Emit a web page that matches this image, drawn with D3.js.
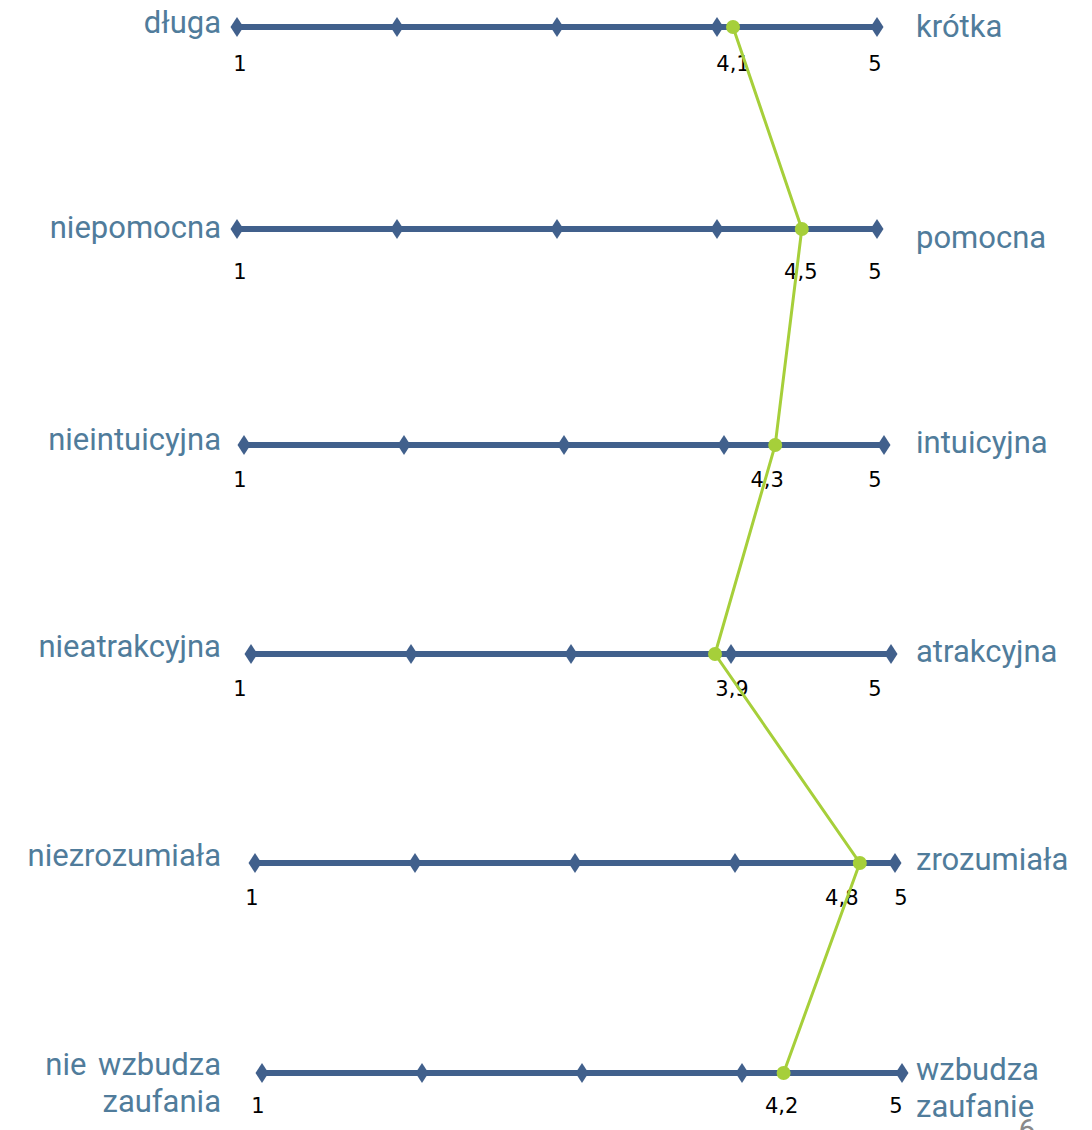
<!DOCTYPE html>
<html><head><meta charset="utf-8">
<script src="https://cdn.jsdelivr.net/npm/d3@7"></script>
<style>html,body{margin:0;padding:0;background:#fff;overflow:hidden}</style>
</head><body>
<svg id="chart" width="1092" height="1130"></svg>
<script>
// ---- data ----
const leftLabels = ["długa", "niepomocna", "nieintuicyjna", "nieatrakcyjna", "niezrozumiała", "nie wzbudza\nzaufania"];
const rightLabels = ["krótka", "pomocna", "intuicyjna", "atrakcyjna", "zrozumiała", "wzbudza\nzaufanie"];
const values = [4.1, 4.53, 4.32, 3.9, 4.78, 4.26];
const valueLabels = ["4,1", "4,5", "4,3", "3,9", "4,8", "4,2"];
const scaleTicks = [1, 2, 3, 4, 5];
const endLabels = ["1", "5"];

// ---- layout ----
const rowY = [27, 229, 445, 654, 863, 1073];
const rowStart = [237, 237, 244, 251, 255, 262];
const span = 640;
const oneLabelX = [240, 240, 240, 240, 252, 258];
const fiveLabelX = [875, 875, 875, 875, 901, 896];
const valueLabelDx = [0, -1, -8, 17, -18, -2];
const numBaseDy = [44, 50, 42, 42, 42, 40];
const leftBaseDy = [6, 9, 5, 3, 3, 2];
const rightBaseDy = [10, 19, 8, 8, 7, 7];

const blue = "#41608c", textBlue = "#507c9b", green = "#a6cf3a";
const svg = d3.select("#chart");

const scales = rowY.map((y, i) => d3.scaleLinear().domain([1, 5]).range([rowStart[i], rowStart[i] + span]));

const g = svg.append("g");
rowY.forEach((y, i) => {
  const x = scales[i];
  g.append("line").attr("x1", x(1)).attr("x2", x(5)).attr("y1", y).attr("y2", y)
    .attr("stroke", blue).attr("stroke-width", 6);
  g.selectAll(null).data(scaleTicks).enter().append("path")
    .attr("d", d => { const cx = x(d); return `M${cx},${y-10}L${cx+6.5},${y}L${cx},${y+10}L${cx-6.5},${y}Z`; })
    .attr("fill", blue);
  const num = (tx, s) => g.append("text").attr("x", tx).attr("y", y + numBaseDy[i]).attr("text-anchor", "middle")
    .attr("font-family", "DejaVu Sans").attr("font-size", 21).attr("fill", "#000").text(s);
  num(oneLabelX[i], endLabels[0]);
  num(fiveLabelX[i], endLabels[1]);
  num(x(values[i]) + valueLabelDx[i], valueLabels[i]);
  // side labels
  const ll = leftLabels[i].split("\n"), rl = rightLabels[i].split("\n");
  const lt = g.append("text").attr("text-anchor", "end").attr("font-family", "Roboto").attr("font-size", 31)
    .attr("word-spacing", 4).attr("fill", textBlue);
  ll.forEach((s, k) => lt.append("tspan").attr("x", 221).attr("y", y + leftBaseDy[i] + k * 37).text(s));
  const rt = g.append("text").attr("text-anchor", "start").attr("font-family", "Roboto").attr("font-size", 31).attr("fill", textBlue);
  rl.forEach((s, k) => rt.append("tspan").attr("x", 916).attr("y", y + rightBaseDy[i] + k * 37).text(s));
});

// profile line
const pts = values.map((v, i) => [scales[i](v), rowY[i]]);
svg.append("path").attr("d", d3.line()(pts)).attr("fill", "none").attr("stroke", green).attr("stroke-width", 3);
svg.selectAll("circle.pt").data(pts).enter().append("circle").attr("class", "pt")
  .attr("cx", d => d[0]).attr("cy", d => d[1]).attr("r", 7).attr("fill", green);

// page number
svg.append("text").attr("x", 1027).attr("y", 1140).attr("text-anchor", "middle")
  .attr("font-family", "Roboto").attr("font-size", 30).attr("fill", "#8a8a8a").text("6");
</script>
</body></html>
